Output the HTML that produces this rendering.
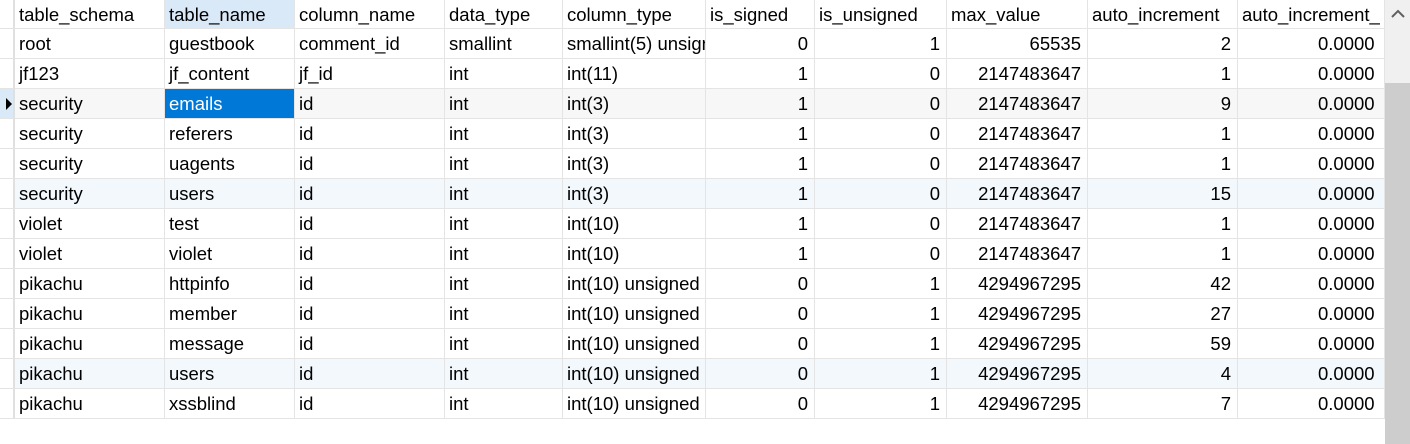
<!DOCTYPE html>
<html><head><style>
body{margin:0;width:1410px;height:444px;background:#fff;overflow:hidden;position:relative;font-family:"Liberation Sans","Noto Sans CJK SC",sans-serif;font-size:18.5px;color:#000}
.c{position:absolute;height:29px;line-height:29px;overflow:hidden;white-space:nowrap;box-sizing:border-box;padding:0 4px;border-right:1px solid #e4e4e4;border-bottom:1px solid #e4e4e4}
.r{text-align:right;padding-right:6px}
.ind{position:absolute;left:0;width:15px;height:29px;box-sizing:border-box;border-right:2px solid #e0e0e0;border-bottom:1px solid #e4e4e4}
</style></head><body>
<div id="t"></div>
<div style="position:absolute;left:1385px;top:0;width:25px;height:444px;background:#f0f0f0"></div>
<div style="position:absolute;left:1385px;top:83px;width:25px;height:361px;background:#cdcdcd"></div>
<svg style="position:absolute;left:1390px;top:8px" width="16" height="12"><polyline points="2,9 8,3 14,9" fill="none" stroke="#606060" stroke-width="2"/></svg>
<script>
var xs=[15,165,295,445,563,706,815,947,1088,1238,1385];
var right=[0,0,0,0,0,1,1,1,1,1];
var hdr=["table_schema","table_name","column_name","data_type","column_type","is_signed","is_unsigned","max_value","auto_increment","auto_increment_"];
var rows=[
["root","guestbook","comment_id","smallint","smallint(5) unsigned","0","1","65535","2","0.0000"],
["jf123","jf_content","jf_id","int","int(11)","1","0","2147483647","1","0.0000"],
["security","emails","id","int","int(3)","1","0","2147483647","9","0.0000"],
["security","referers","id","int","int(3)","1","0","2147483647","1","0.0000"],
["security","uagents","id","int","int(3)","1","0","2147483647","1","0.0000"],
["security","users","id","int","int(3)","1","0","2147483647","15","0.0000"],
["violet","test","id","int","int(10)","1","0","2147483647","1","0.0000"],
["violet","violet","id","int","int(10)","1","0","2147483647","1","0.0000"],
["pikachu","httpinfo","id","int","int(10) unsigned","0","1","4294967295","42","0.0000"],
["pikachu","member","id","int","int(10) unsigned","0","1","4294967295","27","0.0000"],
["pikachu","message","id","int","int(10) unsigned","0","1","4294967295","59","0.0000"],
["pikachu","users","id","int","int(10) unsigned","0","1","4294967295","4","0.0000"],
["pikachu","xssblind","id","int","int(10) unsigned","0","1","4294967295","7","0.0000"]];
var h="";
function cell(x,w,y,txt,cls,bg,col){
 h+='<div class="c '+cls+'" style="left:'+x+'px;top:'+y+'px;width:'+w+'px;background:'+bg+';color:'+col+'">'+txt+'</div>';}
h+='<div class="ind" style="top:0"></div>';
for(var i=0;i<10;i++)cell(xs[i],xs[i+1]-xs[i],0,hdr[i],"",i==1?"#dae9f7":"#fff","#000");
for(var r=0;r<rows.length;r++){
 var y=29+r*30;
 var bg="#fff";
 if(r==2)bg="#f7f7f7";
 if(r==5||r==11)bg="#f3f8fd";
 h+='<div class="ind" style="top:'+y+'px;height:30px;'+(r==2?'background:#dae9f7':'')+'">'+(r==2?'<svg width="12" height="30" style="position:absolute;left:6px;top:0"><polygon points="0,9 6,15 0,21" fill="#000"/></svg>':'')+'</div>';
 for(var i=0;i<10;i++){
  var sel=(r==2&&i==1);
  h+='<div class="c '+(right[i]?'r':'')+'" style="left:'+xs[i]+'px;top:'+y+'px;width:'+(xs[i+1]-xs[i])+'px;height:30px;line-height:30px;background:'+(sel?'#0078d7':bg)+';color:'+(sel?'#fff':'#000')+';'+(i==9?'text-align:left;padding-left:80px':'')+'">'+rows[r][i]+'</div>';
 }
}
document.getElementById("t").innerHTML=h;
</script>
</body></html>
